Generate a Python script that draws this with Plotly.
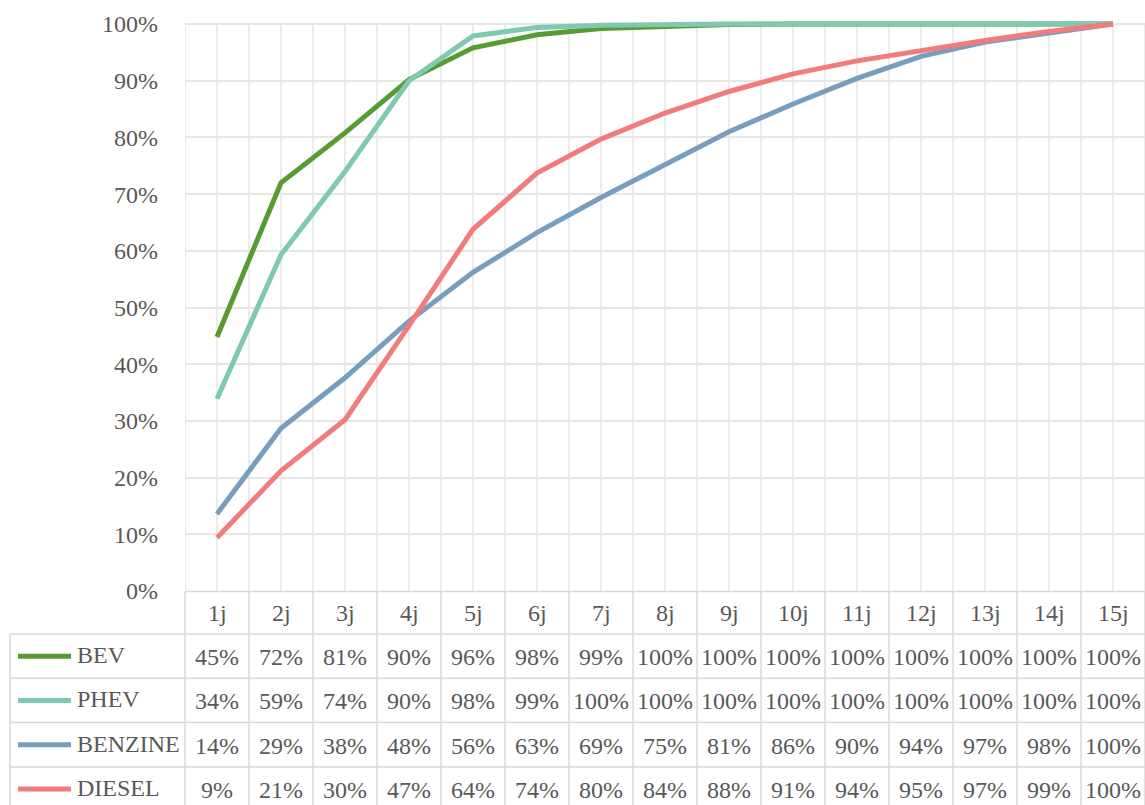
import plotly.graph_objects as go

# ---------------- data ----------------
CATEGORIES = ["1j", "2j", "3j", "4j", "5j", "6j", "7j", "8j", "9j", "10j", "11j", "12j", "13j", "14j", "15j"]
SERIES_NAMES = ["BEV", "PHEV", "BENZINE", "DIESEL"]
BEV = [44.8, 72.0, 80.8, 90.2, 95.8, 98.1, 99.2, 99.6, 99.9, 100, 100, 100, 100, 100, 100]
PHEV = [33.9, 59.3, 74.0, 90.0, 97.9, 99.4, 99.8, 100, 100, 100, 100, 100, 100, 100, 100]
BENZINE = [13.6, 28.7, 37.6, 47.6, 56.2, 63.2, 69.4, 75.3, 81.0, 85.9, 90.4, 94.3, 96.8, 98.4, 100]
DIESEL = [9.4, 21.2, 30.2, 46.8, 63.8, 73.7, 79.7, 84.3, 88.1, 91.2, 93.5, 95.4, 97.1, 98.7, 100]
Y_TICKS = [0, 10, 20, 30, 40, 50, 60, 70, 80, 90, 100]

SERIES = [BEV, PHEV, BENZINE, DIESEL]
COLORS = ["#589C31", "#7FC9B0", "#779DBF", "#F47B7B"]

# ---------------- layout geometry ----------------
W, H = 1145, 805
PL, PR, PT, PB = 185, 1145, 4, 591          # plot area in page pixels
PX_PER_PCT = (591 - 24) / 100.0
Y_TOP = (PB - PT) / PX_PER_PCT
FONT = "Liberation Serif"
TXT = "#595959"
GRID = "#e6e6e6"
BORDER = "#d9d9d9"


def px_x(px):
    return (px - PL) / (PR - PL)


def px_y(py):
    return (PB - py) / (PB - PT)


fig = go.Figure()
for name, vals, col in zip(SERIES_NAMES, SERIES, COLORS):
    fig.add_trace(go.Scatter(x=CATEGORIES, y=vals, mode="lines", name=name,
                             line=dict(color=col, width=5), showlegend=False, hoverinfo="skip"))

shapes = []
n = len(CATEGORIES)
# vertical gridlines at category centers and boundaries (inside plot)
for k in range(2 * n + 1):
    xv = -0.5 + 0.5 * k
    shapes.append(dict(type="line", xref="x", yref="y", x0=xv, x1=xv, y0=0, y1=100,
                       line=dict(color=GRID, width=1.5), layer="below"))

# table geometry
ROW_TOP = 634
ROW_H = 44.3
row_lines = [ROW_TOP + ROW_H * r for r in range(len(SERIES_NAMES) + 1)]
shapes.append(dict(type="line", xref="paper", yref="paper", x0=0, x1=1, y0=px_y(591.5), y1=px_y(591.5),
                   line=dict(color=BORDER, width=1.5)))
for yl in row_lines:
    shapes.append(dict(type="line", xref="paper", yref="paper", x0=px_x(10), x1=1, y0=px_y(yl), y1=px_y(yl),
                       line=dict(color=BORDER, width=1.5)))
for k in range(n + 1):
    xp = k / n
    shapes.append(dict(type="line", xref="paper", yref="paper", x0=xp, x1=xp, y0=px_y(591.5), y1=px_y(H + 10),
                       line=dict(color=BORDER, width=1.5)))
shapes.append(dict(type="line", xref="paper", yref="paper", x0=px_x(10), x1=px_x(10), y0=px_y(ROW_TOP),
                   y1=px_y(H + 10), line=dict(color=BORDER, width=1.5)))

annotations = []
for c in CATEGORIES:
    annotations.append(dict(x=c, xref="x", y=px_y(613), yref="paper", text=c, showarrow=False,
                            xanchor="center", yanchor="middle", font=dict(family=FONT, size=24, color=TXT)))
for r, (name, vals, col) in enumerate(zip(SERIES_NAMES, SERIES, COLORS)):
    yc = row_lines[r] + ROW_H / 2
    shapes.append(dict(type="line", xref="paper", yref="paper", x0=px_x(18), x1=px_x(71), y0=px_y(yc), y1=px_y(yc),
                       line=dict(color=col, width=5)))
    annotations.append(dict(x=px_x(75), xref="paper", y=px_y(yc - 1), yref="paper", text=name, showarrow=False,
                            xanchor="left", yanchor="middle", font=dict(family=FONT, size=24, color=TXT)))
    for c, v in zip(CATEGORIES, vals):
        annotations.append(dict(x=c, xref="x", y=px_y(yc + 1), yref="paper", text=f"{v:.0f}%", showarrow=False,
                                xanchor="center", yanchor="middle", font=dict(family=FONT, size=24, color=TXT)))

fig.update_layout(
    width=W, height=H,
    margin=dict(l=PL, r=W - PR, t=PT, b=H - PB, pad=0),
    paper_bgcolor="white", plot_bgcolor="white",
    font=dict(family=FONT, size=24, color=TXT),
    shapes=shapes, annotations=annotations,
    xaxis=dict(type="category", range=[-0.5, n - 0.5], showgrid=False, showticklabels=False,
               zeroline=False, showline=False, ticks="", fixedrange=True),
    yaxis=dict(range=[0, Y_TOP], tickvals=Y_TICKS, ticktext=[f"{t}%" for t in Y_TICKS],
               showgrid=True, gridcolor=GRID, gridwidth=1.5, zeroline=False, showline=False,
               ticks="", ticklabelstandoff=26, tickfont=dict(family=FONT, size=24, color=TXT),
               fixedrange=True),
)

fig.write_html("out.html", config={"displayModeBar": False},
               post_script="document.body.style.margin='0';document.body.style.overflow='hidden';")
